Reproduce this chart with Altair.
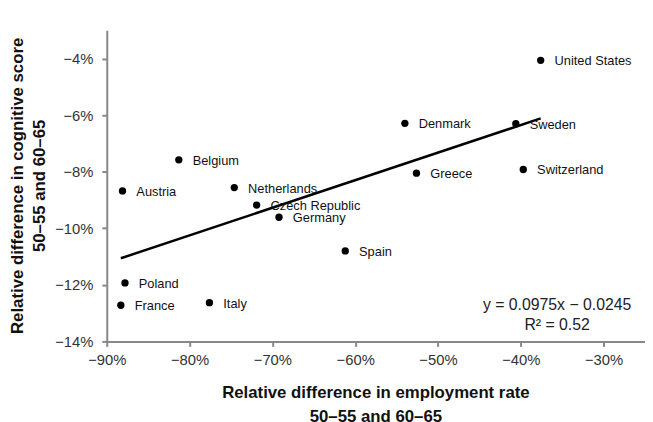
import altair as alt
import pandas as pd

countries = ["United States", "Denmark", "Sweden", "Greece", "Switzerland", "Spain",
             "Belgium", "Austria", "Netherlands", "Czech Republic", "Germany",
             "Poland", "France", "Italy"]
employment_diff = [-37.6, -54.0, -40.6, -52.6, -39.7, -61.2, -81.3, -88.1, -74.6,
                   -71.9, -69.2, -87.8, -88.3, -77.6]
cognitive_diff = [-4.06, -6.29, -6.30, -8.05, -7.92, -10.80, -7.58, -8.68, -8.56,
                  -9.18, -9.61, -11.93, -12.72, -12.63]

slope = 0.0975
intercept = -0.0245
r_squared = 0.52

x_ticks = [-90, -80, -70, -60, -50, -40, -30]
y_ticks = [-14, -12, -10, -8, -6, -4]

FONT = "Liberation Sans"

df = pd.DataFrame({"country": countries, "emp": employment_diff, "cog": cognitive_diff})
x_min, x_max = min(employment_diff), max(employment_diff)
fit = pd.DataFrame({
    "emp": [x_min, x_max],
    "cog": [(slope * x / 100 + intercept) * 100 for x in (x_min, x_max)],
})

label_expr = "(datum.value < 0 ? '\u2212' : '') + abs(datum.value) + '%'"

x_scale = alt.Scale(domain=[-90, -25], nice=False, zero=False)
y_scale = alt.Scale(domain=[-14, -3], nice=False, zero=False)

x_enc = alt.X("emp:Q", scale=x_scale,
              axis=alt.Axis(values=x_ticks, labelExpr=label_expr, labelFlush=False,
                            title=["Relative difference in employment rate", "50\u201355 and 60\u201365"],
                            titleX=272, titleY=44, titleBaseline="top",
                            titleAnchor="middle", titleAlign="center",
                            titleLineHeight=24))
y_enc = alt.Y("cog:Q", scale=y_scale,
              axis=alt.Axis(values=y_ticks, labelExpr=label_expr, labelFlush=False,
                            title=["Relative difference in cognitive score", "50\u201355 and 60\u201365"],
                            titleX=-98, titleY=157, titleBaseline="top",
                            titleAngle=-90, titleAlign="center",
                            titleLineHeight=22))

points = alt.Chart(df).mark_circle(size=55, color="black", opacity=1).encode(x=x_enc, y=y_enc)
labels = alt.Chart(df).mark_text(align="left", baseline="middle", dx=14, dy=1,
                                 fontSize=13, font=FONT, color="#111").encode(
    x=alt.X("emp:Q", scale=x_scale), y=alt.Y("cog:Q", scale=y_scale), text="country:N")
line = alt.Chart(fit).mark_line(color="black", strokeWidth=2.5).encode(
    x=alt.X("emp:Q", scale=x_scale), y=alt.Y("cog:Q", scale=y_scale))

eq_text = [f"y = {slope}x \u2212 {abs(intercept)}", f"R\u00b2 = {r_squared}"]
annot = alt.Chart(pd.DataFrame({"t": [0]})).mark_text(
    align="center", baseline="middle", fontSize=16, font=FONT, color="#222",
    lineHeight=20).encode(x=alt.value(456), y=alt.value(278), text=alt.value(eq_text))

chart = alt.layer(line, points, labels, annot).properties(
    width=545, height=315,
    autosize=alt.AutoSizeParams(type="none"),
    padding={"left": 100, "top": 20, "right": 0, "bottom": 80},
).configure_view(stroke=None).configure_axis(
    grid=False, domainColor="#888", domainWidth=2, tickColor="#888", tickWidth=2,
    tickSize=5, labelFont=FONT, labelFontSize=15, labelColor="#333",
    titleFont=FONT, titleFontSize=17, titleFontWeight="bold", titleColor="#111",
).configure_axisX(labelPadding=6).configure_axisY(labelPadding=9)

chart.save("out.html", embed_options={"renderer": "svg", "actions": False})
